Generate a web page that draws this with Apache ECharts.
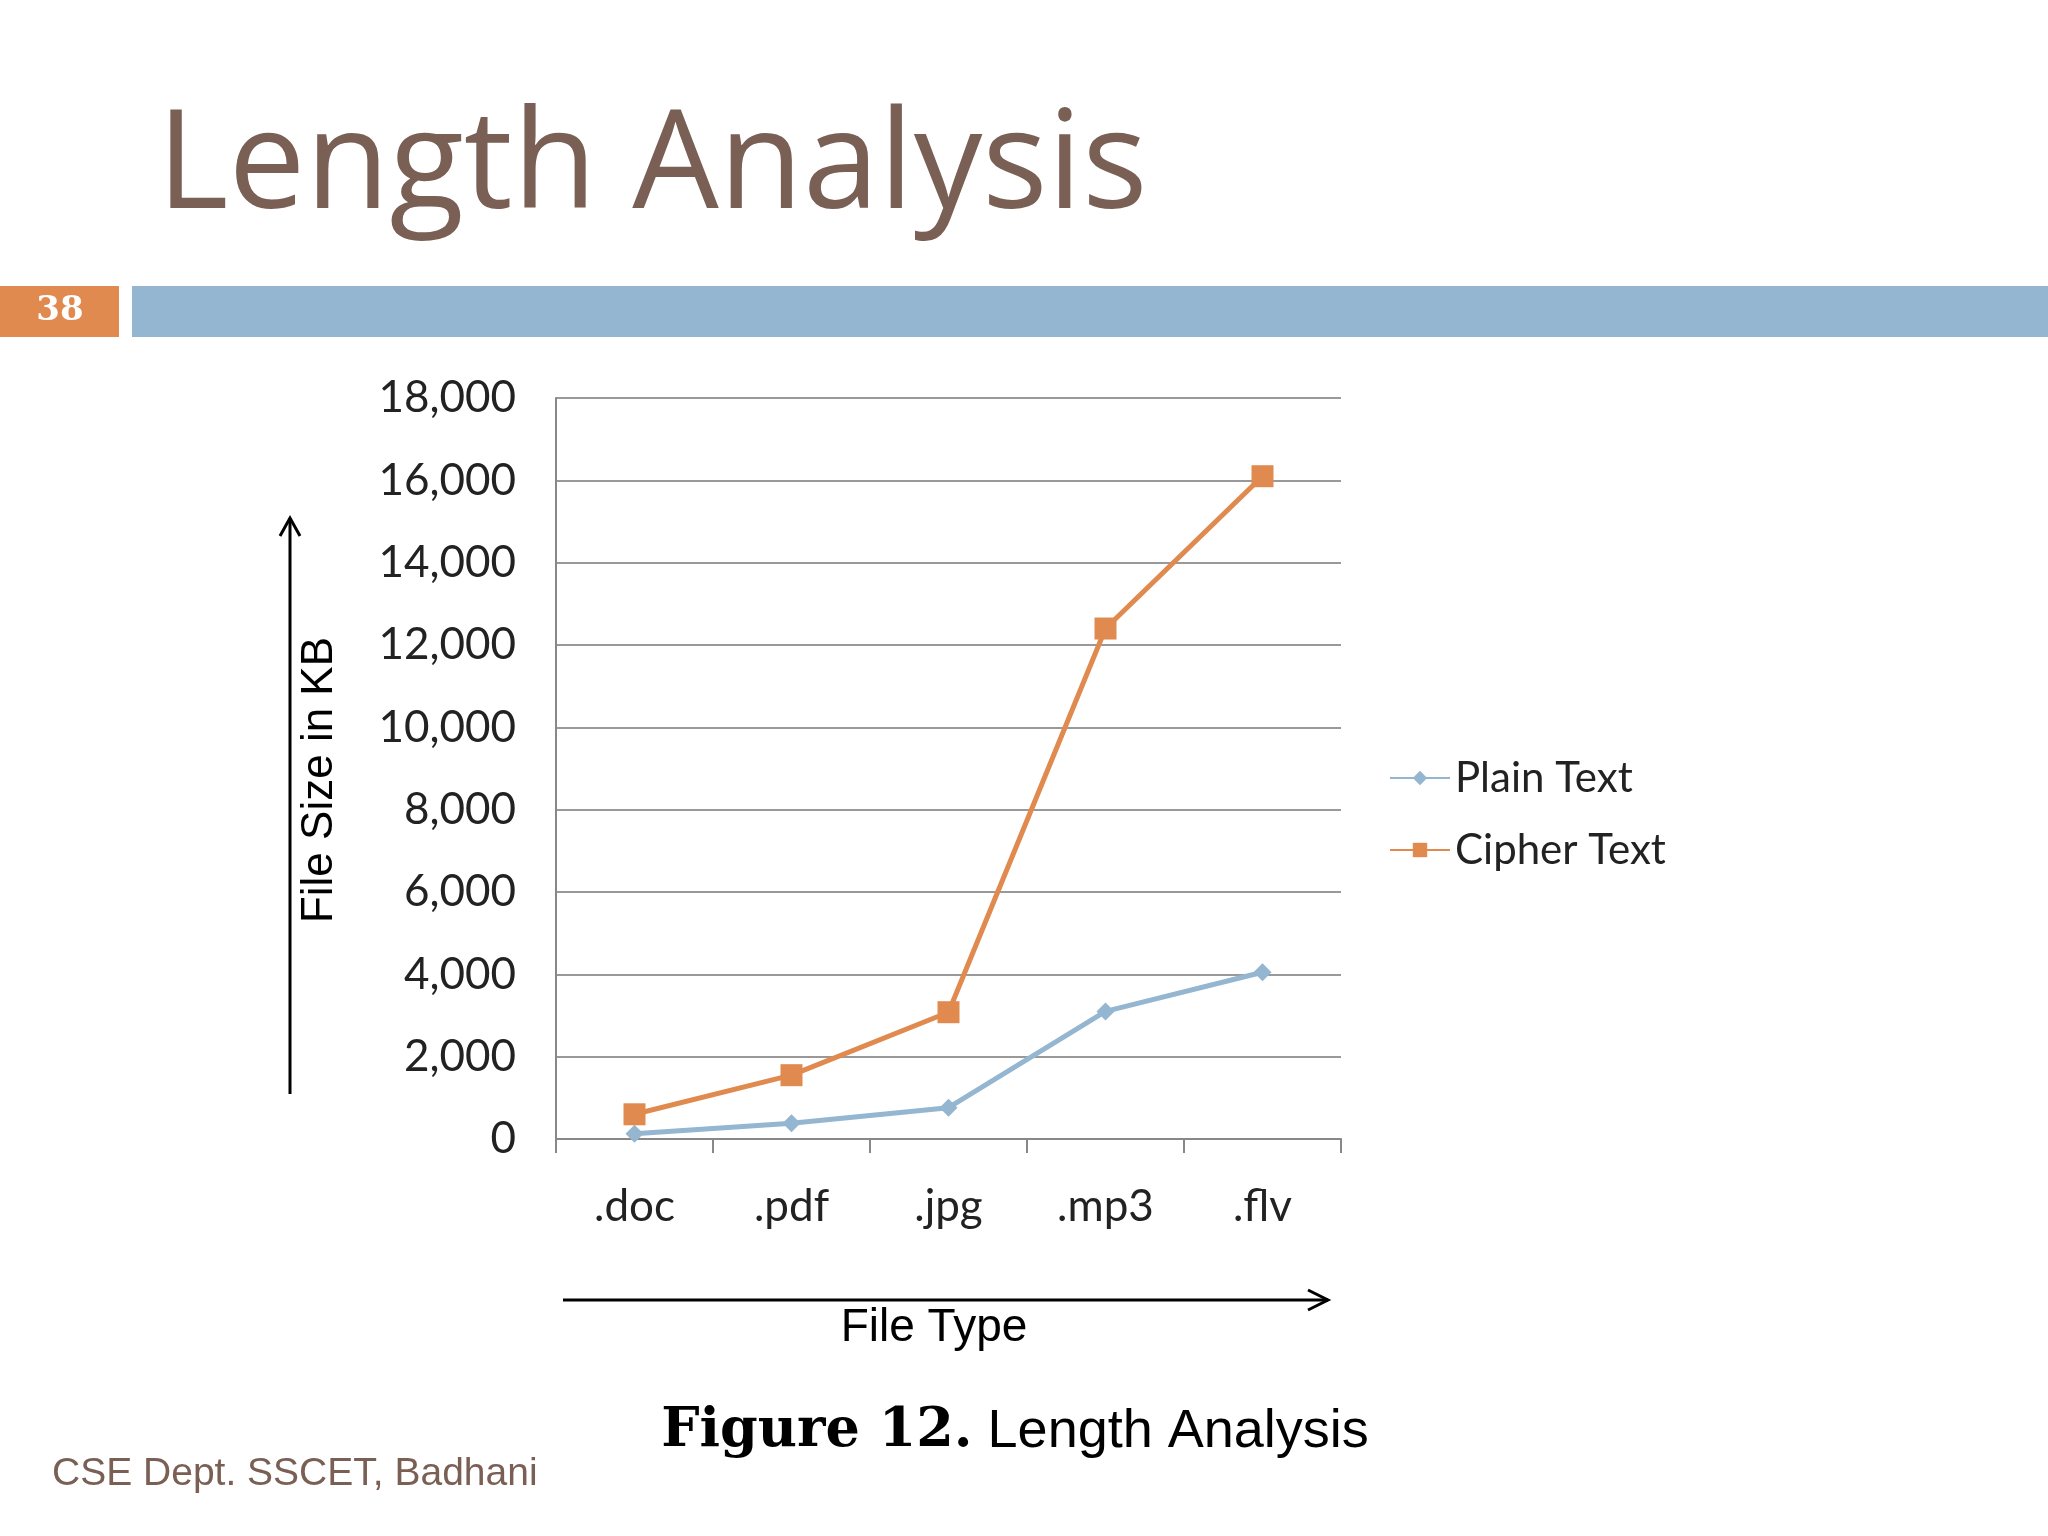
<!DOCTYPE html>
<html><head><meta charset="utf-8">
<script src="https://cdn.jsdelivr.net/npm/echarts@6/dist/echarts.min.js"></script>
<style>html,body{margin:0;background:#fff}#c{width:2048px;height:1536px}</style>
</head><body><div id="c"></div>
<script>
const fileTypes = ['.doc', '.pdf', '.jpg', '.mp3', '.flv'];
const plainText = [130, 380, 760, 3100, 4050];
const cipherText = [600, 1550, 3080, 12400, 16100];

const chart = echarts.init(document.getElementById('c'));
const brown = '#7a5f55';
chart.setOption({
    animation: false,
    grid: { left: 556, top: 398, width: 785, height: 741 },
    legend: {
        orient: 'vertical', left: 1384, top: 752, itemGap: 30,
        itemWidth: 60, itemHeight: 18,
        textStyle: { fontFamily: 'Lato', fontSize: 42, color: '#222' },
        data: ['Plain Text', 'Cipher Text']
    },
    xAxis: {
        type: 'category', data: fileTypes,
        axisLine: { lineStyle: { color: '#888', width: 2 } },
        axisTick: { show: true, length: 14, lineStyle: { color: '#888', width: 2 } },
        axisLabel: { fontFamily: 'Lato', fontSize: 44, color: '#222', margin: 46 }
    },
    yAxis: {
        type: 'value', min: 0, max: 18000, interval: 2000,
        axisLine: { show: true, lineStyle: { color: '#888', width: 2 } },
        splitLine: { lineStyle: { color: '#999', width: 2 } },
        axisLabel: { fontFamily: 'Lato', fontSize: 44, color: '#222', margin: 40 }
    },
    series: [
        { name: 'Plain Text', type: 'line', data: plainText, symbol: 'diamond', symbolSize: 18,
          lineStyle: { color: '#94b6d0', width: 5 }, itemStyle: { color: '#94b6d0' } },
        { name: 'Cipher Text', type: 'line', data: cipherText, symbol: 'rect', symbolSize: 22,
          lineStyle: { color: '#e08a4f', width: 5 }, itemStyle: { color: '#e08a4f' } }
    ],
    graphic: [
        { type: 'text', left: 157, top: 100, style: { text: 'Length Analysis', font: '137px "Open Sans"', fill: brown } },
        { type: 'rect', shape: { x: 0, y: 286, width: 119, height: 51 }, style: { fill: '#e08a4f' } },
        { type: 'text', x: 60, y: 311, style: { text: '38', font: 'bold 34px "DejaVu Serif"', fill: '#fff', textAlign: 'center', textVerticalAlign: 'middle' } },
        { type: 'rect', shape: { x: 132, y: 286, width: 1916, height: 51 }, style: { fill: '#94b6d0' } },
        { type: 'line', shape: { x1: 290, y1: 1094, x2: 290, y2: 518 }, style: { stroke: '#000', lineWidth: 3 } },
        { type: 'polyline', shape: { points: [[280, 536], [290, 518], [300, 536]] }, style: { stroke: '#000', lineWidth: 3, fill: null } },
        { type: 'text', x: 320, y: 780, rotation: Math.PI / 2, style: { text: 'File Size in KB', font: '44px "Liberation Sans"', fill: '#000', textAlign: 'center', textVerticalAlign: 'middle' } },
        { type: 'line', shape: { x1: 563, y1: 1300, x2: 1328, y2: 1300 }, style: { stroke: '#000', lineWidth: 3 } },
        { type: 'polyline', shape: { points: [[1308, 1290], [1328, 1300], [1308, 1310]] }, style: { stroke: '#000', lineWidth: 3, fill: null } },
        { type: 'text', x: 934, y: 1328, style: { text: 'File Type', font: '46px "Liberation Sans"', fill: '#000', textAlign: 'center', textVerticalAlign: 'middle' } },
        { type: 'text', x: 1015, y: 1432, style: {
            text: '{b|Figure 12.} Length Analysis', textAlign: 'center', textVerticalAlign: 'middle',
            font: '54px "Liberation Sans"', fill: '#000',
            rich: { b: { font: 'bold 54px "DejaVu Serif"', fill: '#000' } } } },
        { type: 'text', left: 52, top: 1455, style: { text: 'CSE Dept. SSCET, Badhani', font: '39px "Liberation Sans"', fill: brown } }
    ]
});
</script></body></html>
